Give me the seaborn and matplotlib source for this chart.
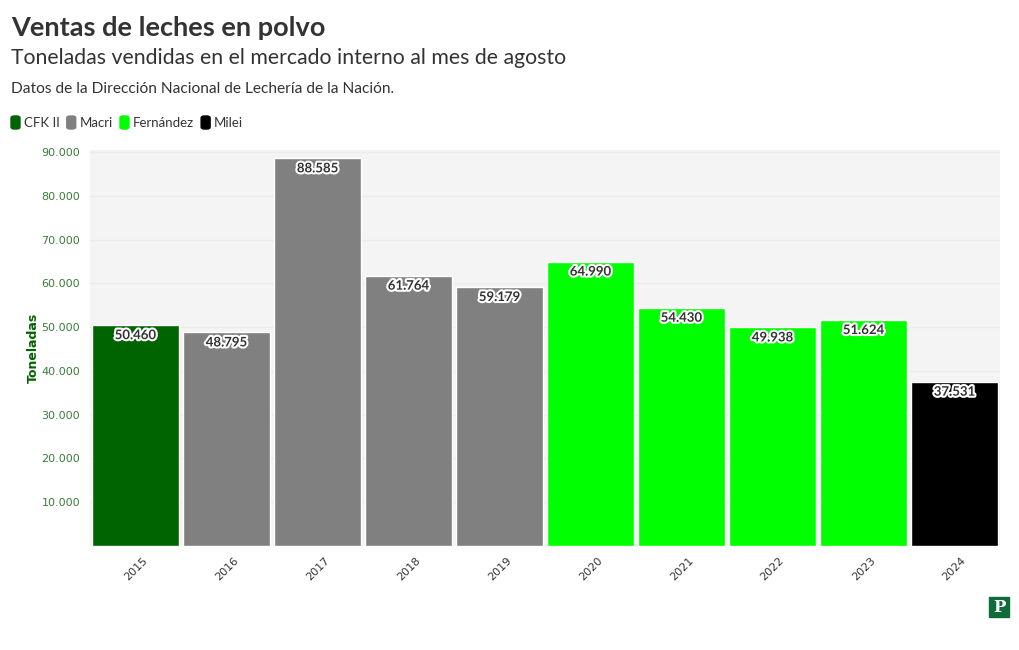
import matplotlib.pyplot as plt
import matplotlib.patheffects as pe
import pandas as pd
import seaborn as sns
from matplotlib.patches import FancyBboxPatch

years = ["2015", "2016", "2017", "2018", "2019", "2020", "2021", "2022", "2023", "2024"]
tons = [50460, 48795, 88585, 61764, 59179, 64990, 54430, 49938, 51624, 37531]
govs = ["CFK II", "Macri", "Macri", "Macri", "Macri",
        "Fernández", "Fernández", "Fernández", "Fernández", "Milei"]
gov_order = ["CFK II", "Macri", "Fernández", "Milei"]
gov_colors = ["#006400", "#808080", "#00ff00", "#000000"]
y_ticks = [10000, 20000, 30000, 40000, 50000, 60000, 70000, 80000, 90000]

df = pd.DataFrame({"year": years, "tons": tons, "gov": govs})
palette = dict(zip(gov_order, gov_colors))


def fmt(v):
    return f"{v:,.0f}".replace(",", ".")


sns.set_theme(style="white")
plt.rcParams["font.family"] = ["Lato", "DejaVu Sans"]

fig = plt.figure(figsize=(10.2, 6.5), dpi=100)
ax = fig.add_axes([90 / 1020, 104 / 650, 910 / 1020, 396 / 650])
ax.set_facecolor("#f4f4f4")

sns.barplot(data=df, x="year", y="tons", hue="gov", hue_order=gov_order,
            palette=palette, dodge=False, width=0.95, saturation=1,
            legend=False, ax=ax)

for bar in ax.patches:
    h = bar.get_height()
    if h <= 0:
        continue
    ax.text(bar.get_x() + bar.get_width() / 2, h - 900, fmt(h),
            ha="center", va="top", fontsize=9.5, fontweight="bold", color="#333333",
            path_effects=[pe.withStroke(linewidth=3, foreground="white")])

ax.set_ylim(0, 90500)
ax.set_xlim(-0.5, len(years) - 0.5)
ax.set_yticks(y_ticks)
ax.set_yticklabels([fmt(v) for v in y_ticks], color="#3a7d3a", fontsize=8,
                   family="DejaVu Sans")
ax.tick_params(axis="y", length=4, color="#eeeeee", pad=3)
ax.set_xticks(range(len(years)))
ax.set_xticklabels(years, rotation=45, ha="center", fontsize=8, color="#333333",
                   family="DejaVu Sans")
ax.tick_params(axis="x", length=0, pad=7)
ax.grid(axis="y", color="#ebebeb", linewidth=1)
ax.set_axisbelow(True)
for s in ax.spines.values():
    s.set_visible(False)
ax.set_xlabel("")
ax.set_ylabel("Toneladas", color="#006400", fontsize=9, fontweight="bold",
              labelpad=1, family="DejaVu Sans")

fig.text(11 / 1020, 1 - 28 / 650, "Ventas de leches en polvo", fontsize=19.5,
         fontweight="bold", color="#333333", va="center")
fig.text(11 / 1020, 1 - 58 / 650, "Toneladas vendidas en el mercado interno al mes de agosto",
         fontsize=15.3, color="#333333", va="center")
fig.text(11 / 1020, 1 - 89 / 650, "Datos de la Dirección Nacional de Lechería de la Nación.",
         fontsize=11.2, color="#333333", va="center")

# legend with rounded swatches
x = 11
for name, col in zip(gov_order, gov_colors):
    fig.patches.append(FancyBboxPatch((x / 1020, 1 - 129 / 650), 9 / 1020, 13 / 650,
                                      boxstyle="round,pad=0,rounding_size=0.003",
                                      transform=fig.transFigure, color=col))
    t = fig.text((x + 13) / 1020, 1 - 123 / 650, name, fontsize=9.5,
                 color="#333333", va="center")
    fig.canvas.draw()
    w = t.get_window_extent().width
    x += 13 + w + 7

# logo
fig.patches.append(FancyBboxPatch((989 / 1020, 1 - 617 / 650), 20 / 1020, 20 / 650,
                                  boxstyle="square,pad=0", transform=fig.transFigure,
                                  color="#0f6b3a"))
fig.text(999 / 1020, 1 - 607 / 650, "P", fontsize=12, fontweight="bold", color="white",
         ha="center", va="center", family="DejaVu Serif")

fig.savefig("out.png", dpi=100)
